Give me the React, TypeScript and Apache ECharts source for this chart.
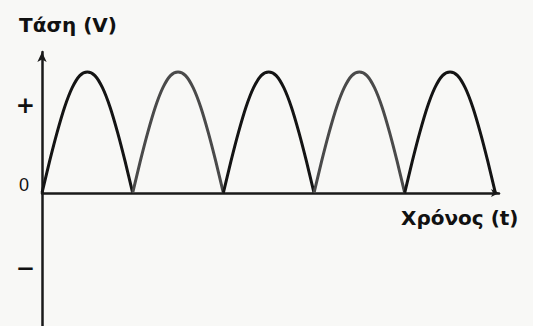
import React, { useEffect, useRef } from "react";
import * as echarts from "echarts";

const arcShape = [0, 0.26, 0.5, 0.71, 0.87, 0.97, 1, 0.97, 0.87, 0.71, 0.5, 0.26, 0];
// Start times of the five humps (in half periods)
const arcStarts = [0, 1, 2, 3, 4];
const arcColors = ["#141414", "#4a4a4a", "#141414", "#4a4a4a", "#141414"];

const yLabelValues = [-0.62, 0, 0.73];
const yLabelTexts = ["−", "0", "+"];

const yTitle = "Τάση (V)";
const xTitle = "Χρόνος (t)";

export default function App() {
  const ref = useRef<HTMLDivElement>(null);
  useEffect(() => {
    if (!ref.current) return;
    const chart = echarts.init(ref.current, null, { renderer: "svg" });
    const n = arcShape.length;
    const series = arcStarts.map((s, k) => ({
      type: "line",
      data: arcShape.map((v, i) => [s + i / (n - 1), v]),
      smooth: 0.3,
      showSymbol: false,
      lineStyle: { color: arcColors[k], width: 3 },
      z: 3,
    }));
    const font = "'DejaVu Sans', sans-serif";
    chart.setOption({
      animation: false,
      backgroundColor: "#f8f8f6",
      grid: { left: 42, right: 34, top: 52, bottom: 0 },
      xAxis: {
        type: "value",
        min: 0,
        max: 5.04,
        axisLine: {
          onZero: true,
          lineStyle: { color: "#1a1a1a", width: 2.5 },
          symbol: ["none", "arrow"],
          symbolSize: [6, 8],
        },
        axisTick: { show: false },
        axisLabel: { show: false },
        splitLine: { show: false },
      },
      yAxis: {
        type: "value",
        min: -1.1,
        max: 1.165,
        axisLine: {
          show: true,
          onZero: false,
          lineStyle: { color: "#1a1a1a", width: 2.5 },
          symbol: ["none", "arrow"],
          symbolSize: [7, 10],
        },
        axisTick: { show: false },
        splitLine: { show: false },
        axisLabel: {
          customValues: yLabelValues,
          margin: 7,
          color: "#111",
          fontFamily: font,
          fontWeight: "bold",
          fontSize: 23,
          formatter: (v: number) => {
            const idx = yLabelValues.findIndex((x) => Math.abs(x - v) < 1e-6);
            const t = idx >= 0 ? yLabelTexts[idx] : "";
            if (t === "0") return "{z|0}";
            return t;
          },
          rich: {
            z: {
              fontSize: 18,
              fontWeight: "normal",
              fontFamily: "'Liberation Sans', sans-serif",
              color: "#111",
              padding: [0, 6, 16, 0],
            },
          },
        },
      },
      graphic: [
        {
          type: "text",
          left: 19,
          top: 15,
          style: {
            text: yTitle,
            fontFamily: font,
            fontWeight: "bold",
            fontSize: 20,
            fill: "#111",
          },
        },
        {
          type: "text",
          left: 401,
          top: 208,
          style: {
            text: xTitle,
            fontFamily: font,
            fontWeight: "bold",
            fontSize: 20,
            fill: "#111",
          },
        },
      ],
      series,
    });
    return () => chart.dispose();
  }, []);
  return <div ref={ref} style={{ width: 533, height: 326, position: "fixed", left: 0, top: 0 }} />;
}
